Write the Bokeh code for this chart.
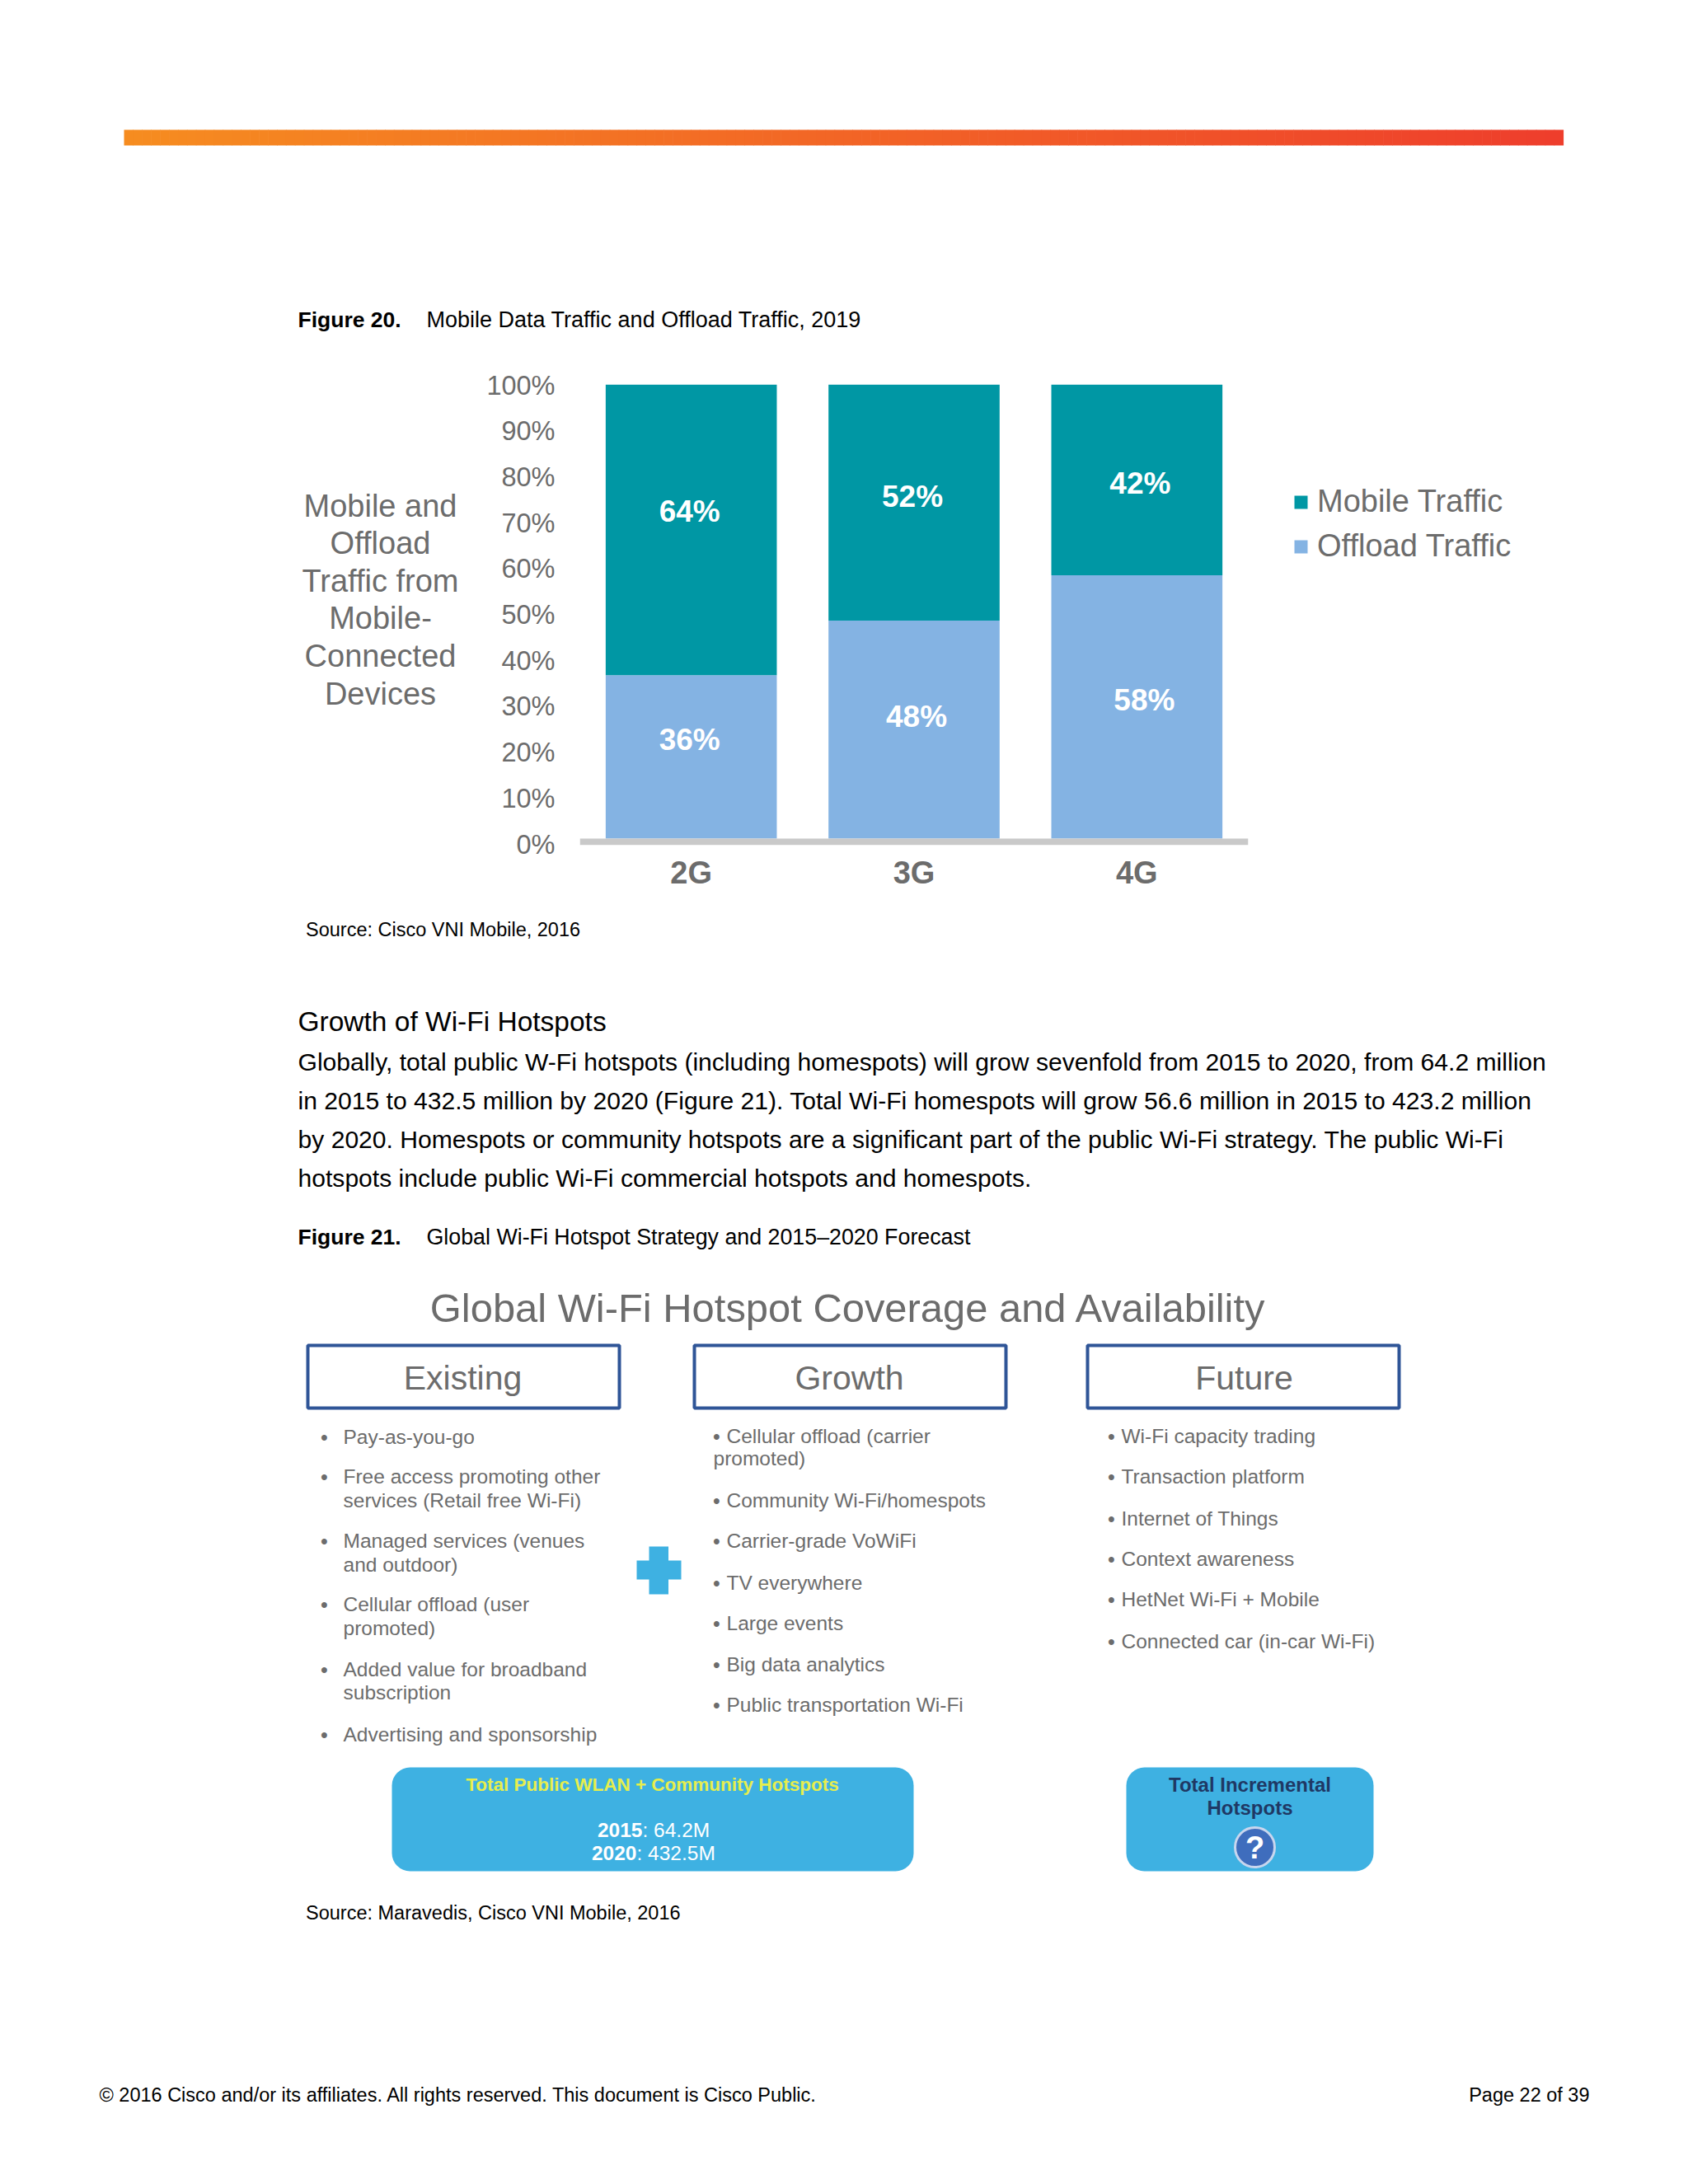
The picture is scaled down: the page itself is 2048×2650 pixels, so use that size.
from bokeh.plotting import figure
from bokeh.layouts import column, row
from bokeh.embed import file_html
from bokeh.resources import INLINE
from bokeh.core.properties import value
from bokeh.models import (ColumnDataSource, Range1d, LinearAxis, FixedTicker,
                          PrintfTickFormatter, Legend, LegendItem, Span)

# ---- data -------------------------------------------------------------
generations = ["2G", "3G", "4G"]
offload_pct = [36, 48, 58]
mobile_pct = [64, 52, 42]
tick_values = [0, 10, 20, 30, 40, 50, 60, 70, 80, 90, 100]
series_names = ["Mobile Traffic", "Offload Traffic"]
y_title_lines = ["Mobile and", "Offload", "Traffic from", "Mobile-", "Connected", "Devices"]

body_lines = [
    "Globally, total public W-Fi hotspots (including homespots) will grow sevenfold from 2015 to 2020, from 64.2 million",
    "in 2015 to 432.5 million by 2020 (Figure 21). Total Wi-Fi homespots will grow 56.6 million in 2015 to 423.2 million",
    "by 2020. Homespots or community hotspots are a significant part of the public Wi-Fi strategy. The public Wi-Fi",
    "hotspots include public Wi-Fi commercial hotspots and homespots.",
]
col_heads = ["Existing", "Growth", "Future"]
existing = ["Pay-as-you-go", "Free access promoting other", "services (Retail free Wi-Fi)",
            "Managed services (venues", "and outdoor)", "Cellular offload (user", "promoted)",
            "Added value for broadband", "subscription", "Advertising and sponsorship"]
existing_bullet = [1, 1, 0, 1, 0, 1, 0, 1, 0, 1]
growth = ["Cellular offload (carrier", "promoted)", "Community Wi-Fi/homespots", "Carrier-grade VoWiFi",
          "TV everywhere", "Large events", "Big data analytics", "Public transportation Wi-Fi"]
growth_bullet = [1, 0, 1, 1, 1, 1, 1, 1]
future = ["Wi-Fi capacity trading", "Transaction platform", "Internet of Things", "Context awareness",
          "HetNet Wi-Fi + Mobile", "Connected car (in-car Wi-Fi)"]

# ---- styles / layout (page pixels) ------------------------------------
FONT = "Liberation Sans"
GREY = "#6c6c6c"
TEAL = "#0097a4"
SKY = "#84b3e3"
CYAN = "#3eb1e2"
NAVY = "#2f5597"
PAGE_L, PAGE_R, PAGE_T, PAGE_B = 0, 2032, 0, 2634
SPLIT_1, SPLIT_2 = 440, 1100
SPLIT_X = 572
FR_L, FR_R, FR_T, FR_B = 703, 1514, 466, 1025
BAR0_Y, BAR100_Y = 1017, 466
TICK0_Y, TICK100_Y = 1024, 467


def page_fig(x0, x1, y0, y1):
    p = figure(width=x1 - x0, height=y1 - y0, output_backend="svg", toolbar_location=None,
               x_range=Range1d(x0, x1), y_range=Range1d(y1, y0), frame_align=False,
               x_axis_location=None, y_axis_location=None, min_border=0, outline_line_color=None)
    p.grid.visible = False
    return p


def txt(p, x, y, s, size, color="#000000", bold=False, align="left"):
    p.text(x=[x], y=[y], text=[s], text_font=value(FONT), text_font_size=f"{size}px",
           text_color=color, text_font_style="bold" if bold else "normal",
           text_align=align, text_baseline="middle")


def lerp(a, b, t):
    return "#%02x%02x%02x" % tuple(round(a[i] + (b[i] - a[i]) * t) for i in range(3))


# ---- top of page ------------------------------------------------------
top = page_fig(PAGE_L, PAGE_R, PAGE_T, SPLIT_1)
N = 160
for i in range(N):
    t = i / (N - 1)
    x0 = 150 + (1896 - 150) * i / N
    x1 = 150 + (1896 - 150) * (i + 1) / N + 0.6
    top.quad(left=x0, right=x1, top=157, bottom=176, fill_color=lerp((246, 140, 32), (238, 62, 44), t), line_color=None)
txt(top, 361, 387, "Figure 20.", 26.5, bold=True)
txt(top, 517, 387, "Mobile Data Traffic and Offload Traffic, 2019", 27)

# ---- y title panel ----------------------------------------------------
side = page_fig(PAGE_L, SPLIT_X, SPLIT_1, SPLIT_2)
for line, y in zip(y_title_lines, [613, 658, 704, 749, 795, 841]):
    txt(side, 461, y, line, 38, GREY, align="center")

# ---- stacked bars -----------------------------------------------------
positions = [i + 0.5 for i in range(len(generations))]
src = ColumnDataSource(dict(pos=positions, offload=offload_pct, mobile=mobile_pct))
bar_per = (BAR0_Y - BAR100_Y) / 100
tick_per = (TICK0_Y - TICK100_Y) / 100
chart = figure(width=PAGE_R - SPLIT_X, height=SPLIT_2 - SPLIT_1, output_backend="svg", toolbar_location=None,
               x_range=Range1d(0, len(generations)),
               y_range=Range1d(-(FR_B - BAR0_Y) / bar_per, 100 + (BAR100_Y - FR_T) / bar_per),
               frame_width=FR_R - FR_L, frame_height=FR_B - FR_T, frame_align=False,
               min_border_left=FR_L - SPLIT_X, min_border_right=PAGE_R - FR_R,
               min_border_top=FR_T - SPLIT_1, min_border_bottom=SPLIT_2 - FR_B,
               y_axis_location=None, outline_line_color=None)
chart.extra_y_ranges["ticks"] = Range1d(-(FR_B - TICK0_Y) / tick_per, 100 + (TICK100_Y - FR_T) / tick_per)
chart.grid.visible = False

rs = chart.vbar_stack(["offload", "mobile"], x="pos", width=0.768, source=src,
                      color=[SKY, TEAL], line_color=None)

yax = LinearAxis(y_range_name="ticks", ticker=FixedTicker(ticks=tick_values),
                 formatter=PrintfTickFormatter(format="%d%%"))
yax.axis_line_color = None
yax.major_tick_line_color = None
yax.minor_tick_line_color = None
yax.major_label_standoff = 24
yax.major_label_text_font = FONT
yax.major_label_text_font_size = "32.5px"
yax.major_label_text_color = GREY
chart.add_layout(yax, "left")

xax = chart.xaxis[0]
xax.ticker = FixedTicker(ticks=positions)
xax.major_label_overrides = {p: g for p, g in zip(positions, generations)}
xax.axis_line_color = None
xax.major_tick_line_color = None
xax.minor_tick_line_color = None
xax.major_label_standoff = 6
xax.major_label_text_font = FONT
xax.major_label_text_font_style = "bold"
xax.major_label_text_font_size = "38px"
xax.major_label_text_color = GREY

chart.add_layout(Span(location=-(FR_B - 4 - BAR0_Y) / bar_per, dimension="width", line_color="#c9c9c9", line_width=8))

# value labels sit off the segment centres in the original; offsets in px
mob_centre = [o + m / 2 for o, m in zip(offload_pct, mobile_pct)]
off_centre = [o / 2 for o in offload_pct]
for centres, vals, dx, dy in [(mob_centre, mobile_pct, [-2, -2, 4], [-22, -7, 4]),
                              (off_centre, offload_pct, [-2, 3, 9], [-21, -16, -8])]:
    chart.text(x=positions, y=centres, text=[f"{v}%" for v in vals], x_offset=dx, y_offset=dy,
               text_font=value(FONT), text_font_style="bold", text_font_size="37px", text_color="#ffffff",
               text_align="center", text_baseline="middle")

legend = Legend(items=[LegendItem(label=series_names[0], renderers=[rs[1]]),
                       LegendItem(label=series_names[1], renderers=[rs[0]])],
                location=(54, 341), orientation="vertical",
                border_line_color=None, background_fill_alpha=0, padding=0, margin=0, spacing=11,
                glyph_width=20, glyph_height=20, label_standoff=10,
                label_text_font=FONT, label_text_font_size="38px", label_text_color=GREY)
chart.add_layout(legend, "right")

# ---- lower part of the page -------------------------------------------
low = page_fig(PAGE_L, PAGE_R, SPLIT_2, PAGE_B)
txt(low, 370.5, 1127, "Source: Cisco VNI Mobile, 2016", 23.5)
txt(low, 361, 1238.5, "Growth of Wi-Fi Hotspots", 33.5)
for line, y in zip(body_lines, [1288, 1335, 1382, 1429]):
    txt(low, 361, y, line, 30.1)
txt(low, 361, 1500, "Figure 21.", 26.5, bold=True)
txt(low, 517, 1500, "Global Wi-Fi Hotspot Strategy and 2015\u20132020 Forecast", 26.8)

txt(low, 1029, 1586, "Global Wi-Fi Hotspot Coverage and Availability", 48.9, GREY, align="center")
for head, l, cx in zip(col_heads, [373, 842, 1319], [561, 1030, 1509]):
    low.quad(left=l, right=l + 378, top=1632, bottom=1708, fill_color="#ffffff", line_color=NAVY, line_width=4)
    txt(low, cx, 1671, head, 41, GREY, align="center")

for s, b, y in zip(existing, existing_bullet,
                   [1743, 1791, 1820, 1869, 1898, 1946, 1975, 2025, 2053, 2104]):
    if b:
        txt(low, 393, y, "\u2022", 25, GREY, align="center")
    txt(low, 416, y, s, 24.5, GREY)
for s, b, y in zip(growth, growth_bullet, [1742, 1769, 1820, 1869, 1920, 1969, 2019, 2068]):
    if b:
        txt(low, 869, y, "\u2022", 25, GREY, align="center")
        txt(low, 881, y, s, 24.5, GREY)
    else:
        txt(low, 865, y, s, 24.5, GREY)
for s, y in zip(future, [1742, 1791, 1842, 1891, 1940, 1991]):
    txt(low, 1348, y, "\u2022", 25, GREY, align="center")
    txt(low, 1360, y, s, 24.5, GREY)

low.quad(left=787, right=810.5, top=1876, bottom=1934, fill_color=CYAN, line_color=None)
low.quad(left=772, right=826, top=1893, bottom=1916, fill_color=CYAN, line_color=None)

for l, r in [(475, 1108), (1366, 1666)]:
    low.quad(left=l, right=r, top=2144, bottom=2270, fill_color=CYAN, line_color=None, border_radius=22)
txt(low, 791, 2165, "Total Public WLAN + Community Hotspots", 22.5, "#e6ee4c", bold=True, align="center")
txt(low, 779, 2219.5, "2015", 24.5, "#ffffff", bold=True, align="right")
txt(low, 779, 2219.5, ": 64.2M", 24.5, "#ffffff")
txt(low, 772, 2247.5, "2020", 24.5, "#ffffff", bold=True, align="right")
txt(low, 772, 2247.5, ": 432.5M", 24.5, "#ffffff")
txt(low, 1516, 2165, "Total Incremental", 24, "#1f3864", bold=True, align="center")
txt(low, 1516, 2193, "Hotspots", 24, "#1f3864", bold=True, align="center")
low.scatter(x=[1522], y=[2241], size=48, marker="circle", fill_color="#3f6dbd", line_color="#c8d6ee", line_width=3)
txt(low, 1522, 2241, "?", 38, "#ffffff", bold=True, align="center")

txt(low, 370.5, 2320, "Source: Maravedis, Cisco VNI Mobile, 2016", 23.5)
txt(low, 120, 2541, "\u00a9 2016 Cisco and/or its affiliates. All rights reserved. This document is Cisco Public.", 23.5)
txt(low, 1928, 2541, "Page 22 of 39", 23.5, align="right")

page = column(top, row(side, chart, spacing=0), low, spacing=0)
open("out.html", "w").write(file_html(page, INLINE))
